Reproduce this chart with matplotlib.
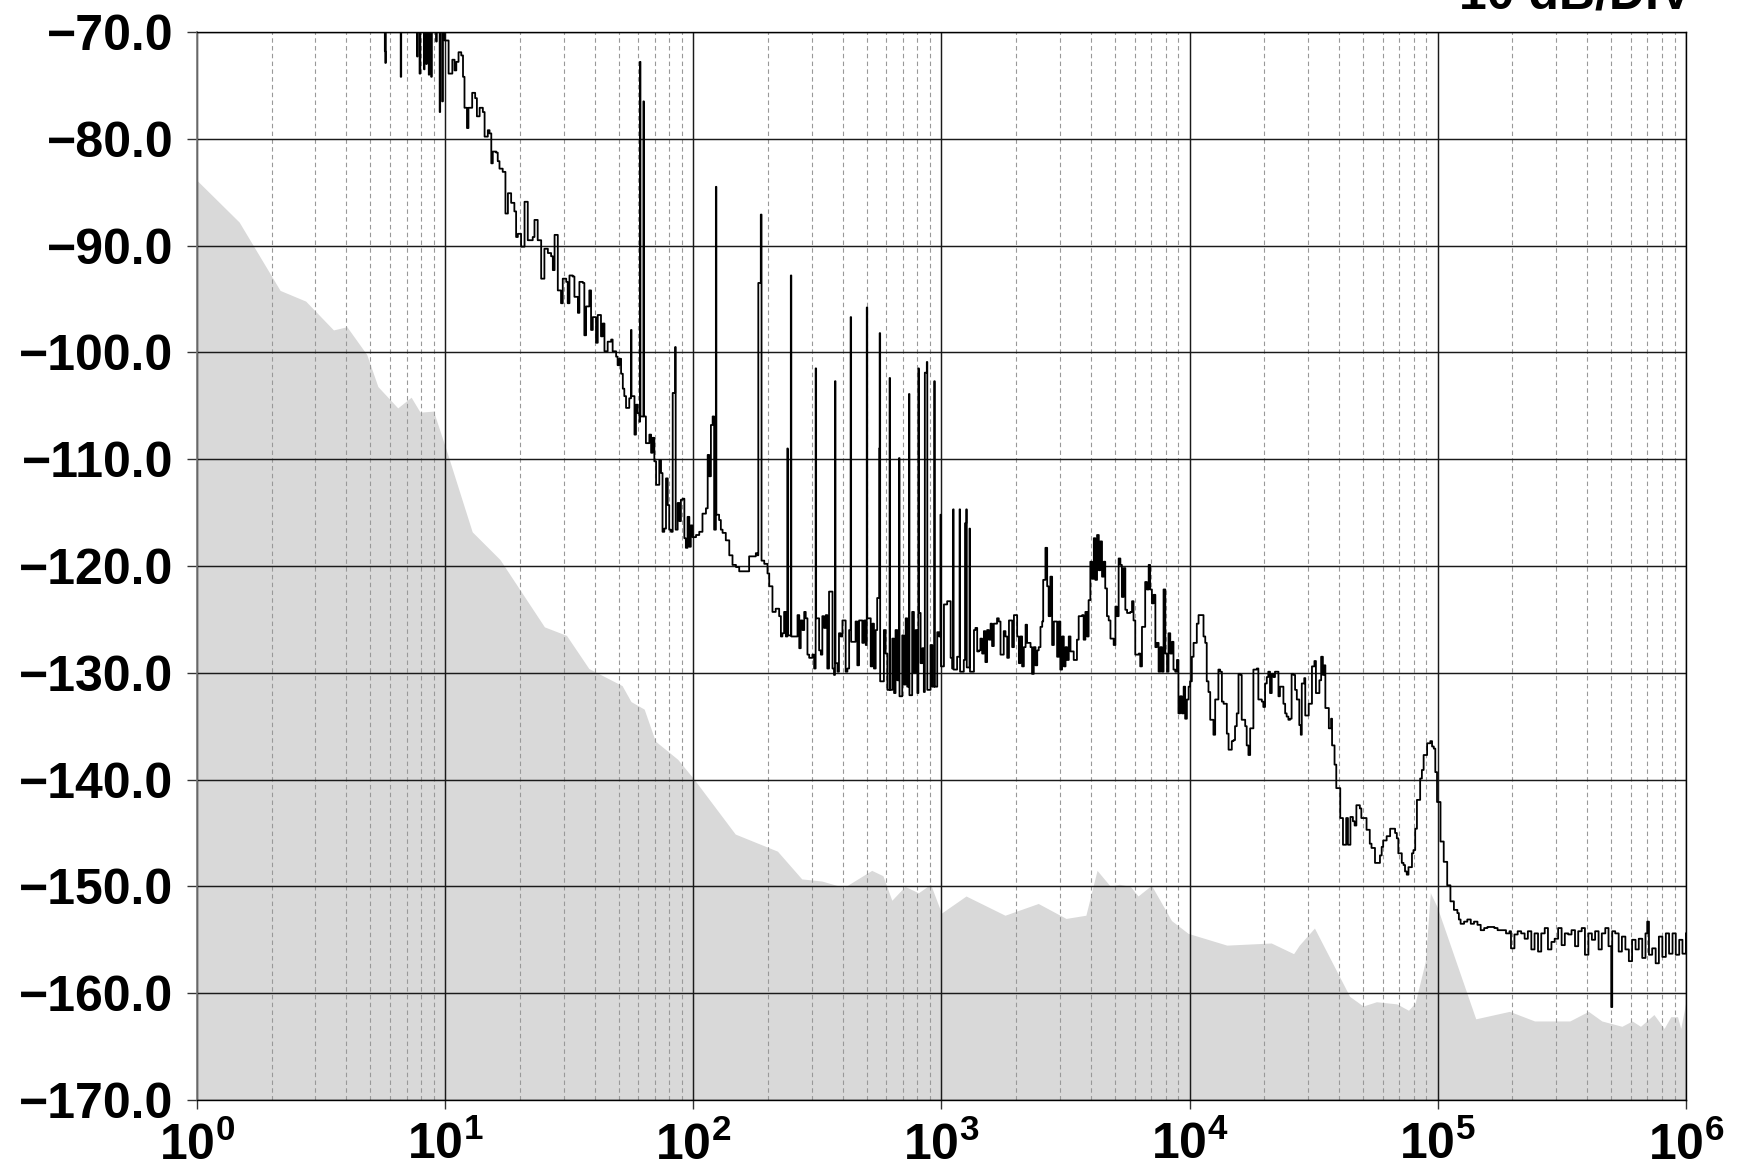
import numpy as np
import matplotlib
matplotlib.use("Agg")
from matplotlib import pyplot as plt
from matplotlib.ticker import FixedLocator, FixedFormatter, LogLocator, NullFormatter

plt.rcParams['font.family'] = ['Liberation Sans', 'DejaVu Sans']
plt.rcParams['font.weight'] = 'bold'
plt.rcParams['mathtext.fontset'] = 'custom'
plt.rcParams['mathtext.rm'] = 'Liberation Sans:bold'
plt.rcParams['mathtext.bf'] = 'Liberation Sans:bold'

# offset frequency given as power of ten (10**x Hz), level in dBc/Hz
# ---- measured trace, 5 Hz .. 220 Hz
low_dec = [0.755, 0.757, 0.759, 0.761, 0.821, 0.823, 0.887, 0.889, 0.897, 0.900,
           0.915, 0.917, 0.924, 0.926, 0.934, 0.936, 0.944, 0.946, 0.964, 0.966,
           0.978, 0.980, 0.988, 0.991, 0.998, 1.014, 1.029, 1.038, 1.045, 1.054,
           1.065, 1.072, 1.078, 1.088, 1.094, 1.109, 1.121, 1.128, 1.139, 1.152,
           1.159, 1.172, 1.179, 1.186, 1.192, 1.206, 1.212, 1.219, 1.232, 1.243,
           1.253, 1.266, 1.279, 1.286, 1.293, 1.306, 1.320, 1.333, 1.353, 1.360,
           1.373, 1.387, 1.400, 1.414, 1.427, 1.434, 1.441, 1.454, 1.467, 1.474,
           1.488, 1.494, 1.501, 1.514, 1.521, 1.535, 1.541, 1.555, 1.561, 1.568,
           1.581, 1.588, 1.595, 1.608, 1.615, 1.628, 1.635, 1.642, 1.655, 1.669,
           1.675, 1.689, 1.695, 1.702, 1.709, 1.716, 1.722, 1.729, 1.742, 1.749,
           1.751, 1.763, 1.769, 1.776, 1.783, 1.785, 1.787, 1.799, 1.801, 1.809,
           1.823, 1.830, 1.836, 1.843, 1.850, 1.863, 1.870, 1.876, 1.883, 1.890,
           1.897, 1.903, 1.910, 1.917, 1.927, 1.929, 1.937, 1.944, 1.950, 1.957,
           1.964, 1.970, 1.977, 1.984, 1.990, 1.997, 2.011, 2.024, 2.037, 2.051,
           2.058, 2.064, 2.071, 2.078, 2.084, 2.091, 2.093, 2.104, 2.111, 2.118,
           2.131, 2.145, 2.158, 2.172, 2.185, 2.212, 2.225, 2.239, 2.252, 2.259,
           2.262, 2.272, 2.275, 2.286, 2.299, 2.306, 2.319, 2.332, 2.346]
low_db = [-65, -71.8, -72.9, -65, -74.2, -65, -72.3, -65, -73.9, -65,
          -73.5, -65, -73.0, -65, -74.0, -65, -74.2, -65, -70.9, -65,
          -77.5, -65, -76.5, -65, -70.8, -73.9, -72.6, -73.6, -72.8, -71.9,
          -72.2, -74.2, -77.1, -79.0, -77.1, -75.7, -76.2, -77.9, -77.1, -77.5,
          -79.8, -79.2, -79.5, -82.3, -81.2, -81.3, -82.1, -82.8, -83.1, -87.0,
          -85.1, -86.0, -86.8, -89.2, -88.9, -90.1, -85.9, -89.5, -89.2, -87.6,
          -89.5, -93.1, -90.3, -90.7, -91.0, -92.3, -89.0, -94.2, -95.4, -93.1,
          -93.4, -95.4, -92.8, -92.9, -94.8, -96.3, -93.4, -93.5, -98.4, -95.7,
          -94.2, -97.9, -96.7, -99.1, -96.5, -98.5, -97.3, -99.9, -99.0, -98.8,
          -99.9, -100.4, -101.2, -100.6, -102.0, -103.4, -104.1, -105.2, -104.3, -97.9,
          -104.1, -107.7, -104.9, -105.7, -106.5, -72.8, -106.0, -76.5, -106.0, -108.5,
          -107.7, -109.4, -108.0, -110.2, -112.4, -110.1, -111.3, -116.8, -116.5, -111.8,
          -114.3, -116.6, -116.8, -103.8, -99.5, -116.6, -114.1, -115.8, -113.8, -113.7,
          -117.4, -118.3, -115.4, -118.2, -116.2, -117.3, -117.1, -116.8, -115.1, -114.6,
          -109.6, -111.6, -106.8, -106.0, -116.6, -84.5, -115.2, -115.7, -116.6, -116.9,
          -117.6, -119.0, -119.9, -120.1, -120.5, -120.5, -119.1, -119.1, -118.8, -119.0,
          -93.5, -87.1, -119.5, -119.8, -120.7, -121.9, -124.3, -124.0, -124.7]

# ---- 220 Hz .. 1.7 kHz (spurs)
mid_dec = [2.353, 2.359, 2.366, 2.373, 2.379, 2.381, 2.393, 2.395, 2.413, 2.420,
           2.427, 2.433, 2.440, 2.447, 2.453, 2.460, 2.467, 2.480, 2.487, 2.493,
           2.495, 2.507, 2.514, 2.520, 2.527, 2.534, 2.540, 2.547, 2.561, 2.567,
           2.571, 2.573, 2.581, 2.587, 2.594, 2.601, 2.614, 2.621, 2.628, 2.634,
           2.636, 2.654, 2.661, 2.668, 2.681, 2.688, 2.695, 2.699, 2.701, 2.715,
           2.722, 2.728, 2.735, 2.741, 2.749, 2.751, 2.753, 2.768, 2.775, 2.782,
           2.791, 2.793, 2.802, 2.809, 2.815, 2.822, 2.829, 2.831, 2.842, 2.849,
           2.856, 2.862, 2.869, 2.871, 2.882, 2.889, 2.896, 2.903, 2.907, 2.909,
           2.916, 2.923, 2.929, 2.933, 2.941, 2.943, 2.956, 2.963, 2.971, 2.973,
           2.983, 2.990, 2.996, 2.998, 3.010, 3.023, 3.037, 3.043, 3.047, 3.049,
           3.063, 3.073, 3.075, 3.090, 3.095, 3.100, 3.102, 3.113, 3.115, 3.131,
           3.137, 3.144, 3.151, 3.157, 3.164, 3.171, 3.177, 3.184, 3.191, 3.198,
           3.204, 3.211, 3.224]
mid_db = [-126.6, -126.3, -124.3, -126.6, -109.0, -126.5, -92.8, -126.6, -126.6, -124.6,
          -127.7, -125.1, -126.0, -124.3, -124.9, -128.3, -128.6, -128.3, -129.6, -101.5,
          -124.9, -127.9, -128.3, -124.7, -125.8, -124.6, -129.6, -122.4, -129.6, -130.2,
          -102.7, -129.1, -129.9, -126.3, -126.6, -125.1, -129.9, -129.6, -126.0, -96.7,
          -127.1, -125.2, -129.3, -125.1, -127.2, -125.1, -127.4, -95.8, -124.9, -129.4,
          -125.4, -129.6, -126.0, -123.0, -109.0, -98.2, -130.8, -126.0, -128.2, -131.6,
          -102.4, -131.6, -126.8, -131.9, -126.0, -130.7, -109.9, -132.2, -126.5, -131.1,
          -124.9, -131.3, -103.9, -132.1, -124.3, -130.0, -126.0, -131.9, -101.5, -124.4,
          -129.1, -127.7, -131.8, -101.9, -100.9, -131.6, -127.4, -131.3, -102.7, -131.3,
          -126.2, -126.6, -115.2, -129.4, -123.6, -123.3, -128.6, -129.6, -114.7, -129.7,
          -128.5, -114.7, -129.9, -128.8, -116.0, -114.7, -129.5, -116.5, -129.9, -126.0,
          -125.8, -128.0, -127.9, -126.8, -128.2, -126.1, -129.0, -126.0, -126.9, -125.4,
          -127.5, -125.4, -124.9]

# ---- 1.7 kHz .. 27 kHz
hi_dec = [3.231, 3.238, 3.251, 3.258, 3.265, 3.272, 3.285, 3.292, 3.305, 3.312,
          3.318, 3.325, 3.332, 3.339, 3.345, 3.359, 3.365, 3.372, 3.379, 3.386,
          3.392, 3.399, 3.406, 3.410, 3.419, 3.426, 3.432, 3.439, 3.446, 3.453,
          3.466, 3.473, 3.479, 3.486, 3.493, 3.500, 3.506, 3.513, 3.520, 3.533,
          3.546, 3.553, 3.567, 3.573, 3.580, 3.587, 3.593, 3.600, 3.607, 3.614,
          3.620, 3.627, 3.634, 3.640, 3.647, 3.654, 3.660, 3.667, 3.674, 3.681,
          3.694, 3.701, 3.707, 3.714, 3.721, 3.727, 3.734, 3.741, 3.748, 3.761,
          3.768, 3.774, 3.781, 3.795, 3.801, 3.808, 3.821, 3.828, 3.835, 3.841,
          3.848, 3.855, 3.862, 3.868, 3.875, 3.882, 3.888, 3.895, 3.902, 3.909,
          3.915, 3.922, 3.929, 3.935, 3.942, 3.949, 3.955, 3.962, 3.969, 3.976,
          3.982, 3.989, 3.996, 4.002, 4.009, 4.016, 4.029, 4.036, 4.049, 4.056,
          4.063, 4.069, 4.076, 4.083, 4.096, 4.103, 4.116, 4.123, 4.130, 4.137,
          4.150, 4.157, 4.170, 4.177, 4.183, 4.190, 4.197, 4.204, 4.210, 4.224,
          4.230, 4.237, 4.244, 4.257, 4.271, 4.277, 4.291, 4.297, 4.304, 4.311,
          4.317, 4.324, 4.331, 4.338, 4.344, 4.351, 4.358, 4.364, 4.378, 4.385,
          4.391, 4.398, 4.405, 4.411, 4.418, 4.425, 4.432]
hi_db = [-125.2, -128.3, -126.1, -126.6, -128.6, -125.1, -127.6, -124.6, -126.6, -129.1,
         -126.6, -129.4, -127.6, -125.5, -127.2, -127.6, -130.1, -127.6, -129.3, -127.9,
         -127.6, -125.7, -125.2, -121.3, -118.3, -121.9, -124.7, -121.0, -127.4, -125.2,
         -128.5, -125.2, -129.7, -126.6, -129.4, -127.6, -128.8, -126.6, -128.0, -128.8,
         -126.9, -124.7, -124.6, -126.9, -124.3, -126.6, -123.2, -119.6, -121.2, -117.4,
         -121.3, -117.1, -120.4, -117.7, -121.0, -119.6, -122.1, -124.7, -125.1, -126.8,
         -127.4, -123.8, -124.7, -119.3, -119.9, -122.9, -120.2, -124.1, -124.4, -124.3,
         -123.3, -125.1, -128.3, -128.2, -129.4, -125.7, -121.5, -122.2, -119.9, -122.2,
         -123.5, -122.7, -127.6, -127.2, -129.9, -127.6, -129.9, -122.2, -128.2, -129.9,
         -126.3, -128.2, -127.1, -129.7, -129.9, -128.8, -133.8, -132.2, -133.8, -131.3,
         -134.3, -132.5, -131.3, -130.8, -128.5, -127.2, -125.4, -124.6, -124.6, -126.6,
         -127.2, -130.8, -131.8, -134.4, -135.8, -132.5, -129.7, -129.9, -132.7, -132.9,
         -135.7, -137.2, -136.4, -136.3, -135.0, -133.8, -130.1, -130.2, -134.4, -135.0,
         -136.8, -137.7, -135.2, -129.7, -129.6, -132.5, -132.7, -133.2, -131.0, -130.4,
         -129.9, -131.9, -130.1, -130.4, -129.9, -129.9, -132.2, -131.3, -132.9, -133.8,
         -134.1, -134.4, -134.3, -130.1, -130.2, -131.6, -132.5]

# ---- 27 kHz .. 1 MHz
top_dec = [4.442, 4.448, 4.452, 4.462, 4.466, 4.480, 4.493, 4.503, 4.509, 4.523,
           4.530, 4.537, 4.543, 4.547, 4.561, 4.570, 4.574, 4.584, 4.591, 4.607,
           4.618, 4.631, 4.638, 4.648, 4.658, 4.665, 4.672, 4.686, 4.692, 4.713,
           4.726, 4.733, 4.747, 4.767, 4.774, 4.780, 4.794, 4.808, 4.828, 4.835,
           4.841, 4.855, 4.862, 4.868, 4.875, 4.882, 4.896, 4.902, 4.909, 4.916,
           4.929, 4.936, 4.943, 4.957, 4.970, 4.977, 4.984, 4.990, 4.997, 5.011,
           5.024, 5.038, 5.051, 5.065, 5.079, 5.085, 5.092, 5.106, 5.119, 5.133,
           5.146, 5.160, 5.173, 5.187, 5.200, 5.214, 5.228, 5.241, 5.255, 5.268,
           5.275, 5.289, 5.295, 5.309, 5.322, 5.336, 5.350, 5.363, 5.377, 5.390,
           5.404, 5.417, 5.431, 5.444, 5.458, 5.471, 5.485, 5.499, 5.512, 5.526,
           5.539, 5.553, 5.566, 5.580, 5.593, 5.607, 5.621, 5.634, 5.648, 5.661,
           5.675, 5.688, 5.699, 5.703, 5.715, 5.729, 5.742, 5.756, 5.770, 5.783,
           5.797, 5.810, 5.824, 5.837, 5.844, 5.851, 5.864, 5.878, 5.891, 5.905,
           5.919, 5.932, 5.946, 5.959, 5.973, 5.986, 6.000]
top_db = [-134.9, -135.8, -131.0, -130.5, -134.0, -132.9, -129.4, -128.9, -131.9, -130.7,
          -128.5, -130.2, -129.3, -133.3, -135.2, -134.3, -136.8, -138.6, -140.8, -143.6,
          -146.1, -143.6, -146.1, -143.5, -143.9, -144.3, -142.4, -142.7, -143.6, -144.7,
          -146.0, -146.4, -147.8, -147.1, -146.3, -145.7, -145.3, -144.6, -145.0, -145.5,
          -146.9, -147.8, -148.0, -148.6, -148.9, -148.2, -146.9, -146.6, -144.6, -141.9,
          -139.9, -139.1, -137.7, -136.6, -136.4, -136.9, -137.1, -139.3, -142.1, -145.8,
          -147.7, -149.9, -151.4, -152.2, -152.5, -153.1, -153.5, -153.3, -153.1, -153.5,
          -153.3, -153.6, -154.1, -153.9, -153.8, -153.8, -153.9, -154.1, -154.1, -154.1,
          -154.4, -154.2, -155.8, -154.5, -154.2, -154.4, -154.9, -154.2, -155.9, -154.4,
          -156.1, -154.4, -153.9, -155.9, -155.2, -154.9, -153.9, -155.5, -154.4, -154.5,
          -154.1, -155.6, -154.2, -153.9, -156.4, -154.4, -155.0, -154.2, -155.9, -154.4,
          -153.9, -155.6, -161.3, -154.2, -154.4, -156.1, -154.7, -155.9, -157.0, -155.0,
          -155.9, -154.9, -156.7, -154.4, -153.3, -156.4, -155.8, -157.2, -154.7, -156.6,
          -154.4, -156.3, -154.4, -156.4, -155.0, -156.3, -154.4]

# ---- instrument noise floor (grey area)
floor_dec = [0.000, 0.170, 0.335, 0.438, 0.550, 0.604, 0.684, 0.729, 0.809, 0.863,
             0.899, 0.953, 1.011, 1.109, 1.221, 1.400, 1.489, 1.579, 1.713, 1.749,
             1.802, 1.847, 1.937, 2.004, 2.169, 2.339, 2.437, 2.518, 2.607, 2.719,
             2.764, 2.800, 2.853, 2.907, 2.956, 3.000, 3.099, 3.256, 3.390, 3.502,
             3.582, 3.627, 3.681, 3.716, 3.761, 3.792, 3.846, 3.927, 3.994, 4.150,
             4.329, 4.419, 4.442, 4.503, 4.645, 4.699, 4.753, 4.835, 4.882, 4.909,
             4.950, 4.970, 4.997, 5.153, 5.289, 5.390, 5.532, 5.607, 5.661, 5.742,
             5.783, 5.817, 5.871, 5.912, 5.939, 5.966, 5.979, 6.000]
floor_db = [-83.9, -87.8, -94.2, -95.2, -97.9, -97.6, -100.2, -103.2, -105.2, -104.2,
            -105.6, -105.5, -109.6, -116.8, -119.4, -125.7, -126.5, -129.6, -131.2, -132.7,
            -133.4, -136.4, -138.1, -140.0, -145.1, -146.7, -149.3, -149.5, -150.1, -148.5,
            -149.0, -151.3, -150.0, -150.6, -149.8, -152.5, -150.9, -152.7, -151.6, -153.0,
            -152.7, -148.5, -150.0, -149.8, -150.0, -150.9, -149.9, -153.2, -154.4, -155.5,
            -155.3, -156.3, -155.5, -153.9, -160.3, -161.2, -160.8, -161.0, -161.6, -160.9,
            -157.0, -150.6, -151.9, -162.4, -161.7, -162.6, -162.6, -161.7, -162.6, -163.1,
            -162.6, -163.1, -162.0, -163.3, -162.2, -162.2, -163.3, -160.8]

y_ticks = list(range(-170, -69, 10))
x_decades = [0, 1, 2, 3, 4, 5, 6]

trace_f = 10 ** np.array(low_dec + mid_dec + hi_dec + top_dec)
trace_db = np.array(low_db + mid_db + hi_db + top_db)
floor_f = 10 ** np.array(floor_dec)
floor_lvl = np.array(floor_db)

fig = plt.figure(figsize=(17.37, 11.66), dpi=100)
ax = fig.add_axes([0.1134, 0.0566, 0.8572, 0.9160])
ax.set_xscale('log')
ax.set_xlim(1, 1e6)
ax.set_ylim(-170, -70)
ax.set_axisbelow(True)

ax.fill_between(floor_f, floor_lvl, -175, color='#d9d9d9', linewidth=0, zorder=0.3)
ax.plot(trace_f, trace_db, color='black', linewidth=1.3, drawstyle='steps-post',
        zorder=3)

ax.xaxis.set_major_locator(FixedLocator([10.0 ** d for d in x_decades]))
ax.xaxis.set_major_formatter(FixedFormatter([r'$\mathbf{10^{%d}}$' % d for d in x_decades]))
ax.xaxis.set_minor_locator(LogLocator(base=10, subs=np.arange(2, 10), numticks=20))
ax.xaxis.set_minor_formatter(NullFormatter())
ax.yaxis.set_major_locator(FixedLocator(y_ticks))
ax.yaxis.set_major_formatter(FixedFormatter(['\u2212%.1f' % abs(v) for v in y_ticks]))

ax.grid(True, which='major', axis='both', color='#1a1a1a', linewidth=1.05, linestyle='-')
ax.grid(True, which='minor', axis='x', color='#999999', linewidth=0.8,
        linestyle=(0, (4, 3)))

ax.tick_params(axis='y', which='major', length=7, width=1.0, pad=10,
               labelsize=36, color='#333333')
ax.tick_params(axis='x', which='major', length=6.5, width=1.0, pad=9,
               labelsize=36, color='#333333')
ax.tick_params(axis='x', which='minor', length=0)
for lab in ax.get_xticklabels() + ax.get_yticklabels():
    lab.set_fontweight('bold')

for side in ['top', 'right', 'bottom']:
    ax.spines[side].set_color('black')
    ax.spines[side].set_linewidth(1.0)
ax.spines['left'].set_color('#777777')
ax.spines['left'].set_linewidth(1.2)

fig.text(0.974, 0.9923, '10 dB/DIV', ha='right', va='baseline', fontsize=36,
         fontweight='bold')

fig.savefig('out.png', dpi=100)
